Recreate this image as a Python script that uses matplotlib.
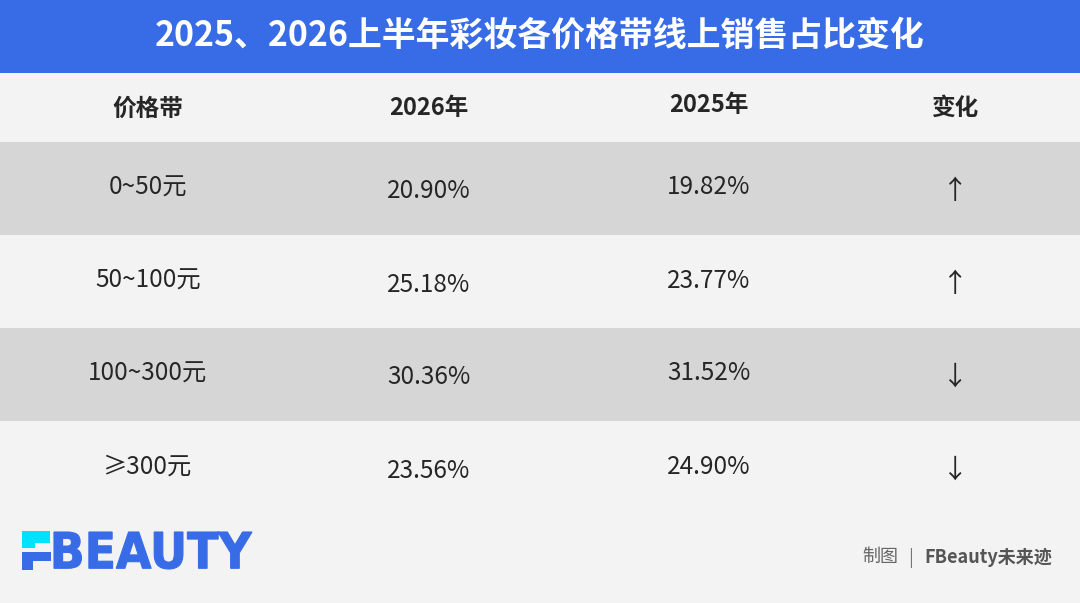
import matplotlib
matplotlib.use("Agg")
import matplotlib.pyplot as plt
from matplotlib.patches import Rectangle, PathPatch
from matplotlib.textpath import TextPath
from matplotlib.font_manager import FontProperties
from matplotlib.transforms import Affine2D

plt.rcParams['font.family'] = ['Noto Sans CJK SC', 'DejaVu Sans']

# data
title = "2025、2026上半年彩妆各价格带线上销售占比变化"
headers = ["价格带", "2026年", "2025年", "变化"]
bands = ["0~50元", "50~100元", "100~300元", "≥300元"]
share_2026 = [20.90, 25.18, 30.36, 23.56]
share_2025 = [19.82, 23.77, 31.52, 24.90]
change = ["↑" if a > b else "↓" for a, b in zip(share_2026, share_2025)]

BLUE = "#386be6"
LIGHT = "#f3f3f3"
GRAY = "#d6d6d6"
TXT = "#262626"

fig = plt.figure(figsize=(10.8, 6.03), dpi=100)
fig.patch.set_facecolor(LIGHT)
ax = fig.add_axes([0, 0, 1, 1])
ax.set_xlim(0, 1080)
ax.set_ylim(603, 0)
ax.axis("off")

# title band
ax.add_patch(Rectangle((0, 0), 1080, 73, color=BLUE, lw=0))
ax.text(540, 35, title, color="white", fontsize=24.4, fontweight="bold",
        ha="center", va="center")

# header row
col_x = [148, 429, 709, 955]
head_dy = [1, 0, -3, 0]
for x, h, dy in zip(col_x, headers, head_dy):
    ax.text(x, 108 + dy, h, color=TXT, fontsize=17, fontweight="bold",
            ha="center", va="center")

# body rows
row_top = 142
row_h = 93
row_idx = list(range(len(bands)))
ax.barh([row_top + row_h * (i + 0.5) for i in row_idx], 1080, height=row_h,
        left=0, color=[GRAY if i % 2 == 0 else LIGHT for i in row_idx], lw=0)

for i in row_idx:
    yc = row_top + row_h * (i + 0.5)
    ax.text(col_x[0], yc - 1, bands[i], color=TXT, fontsize=17.5,
            ha="center", va="center")
    ax.text(col_x[1], yc + 3, f"{share_2026[i]:.2f}%", color=TXT, fontsize=17.5,
            ha="center", va="center")
    ax.text(col_x[2], yc - 1, f"{share_2025[i]:.2f}%", color=TXT, fontsize=17.5,
            ha="center", va="center")
    ax.text(col_x[3], yc + 3, change[i], color=TXT, fontsize=19,
            ha="center", va="center")

# logo: F mark
CYAN = "#00e1ff"
ax.add_patch(Rectangle((22, 531), 28, 12, color=CYAN, lw=0))
ax.add_patch(Rectangle((22, 543), 13, 5, color=CYAN, lw=0))
ax.add_patch(Rectangle((22, 552), 29, 9, color=BLUE, lw=0))
ax.add_patch(Rectangle((22, 561), 11, 9, color=BLUE, lw=0))

# logo: BEAUTY word fitted into its box
tp = TextPath((0, 0), "BEAUTY", size=40,
              prop=FontProperties(family="DejaVu Sans", weight="bold"))
ext = tp.get_extents()
x0, x1, y0, y1 = 54, 252, 532, 569
sx = (x1 - x0) / ext.width
sy = (y1 - y0) / ext.height
tr = (Affine2D().translate(-ext.x0, -ext.y0).scale(sx, -sy)
      .translate(x0, y1))
ax.add_patch(PathPatch(tr.transform_path(tp), color=BLUE, lw=0.8, ec=BLUE))

# footer credit
ax.text(1052, 557, "FBeauty未来迹", color="#555555", fontsize=13,
        fontweight="bold", ha="right", va="center")
ax.text(898, 557, "制图", color="#666666", fontsize=13,
        ha="right", va="center")
ax.text(911, 558, "|", color="#777777", fontsize=13,
        ha="center", va="center")

fig.savefig("out.png", dpi=100, facecolor=LIGHT)
